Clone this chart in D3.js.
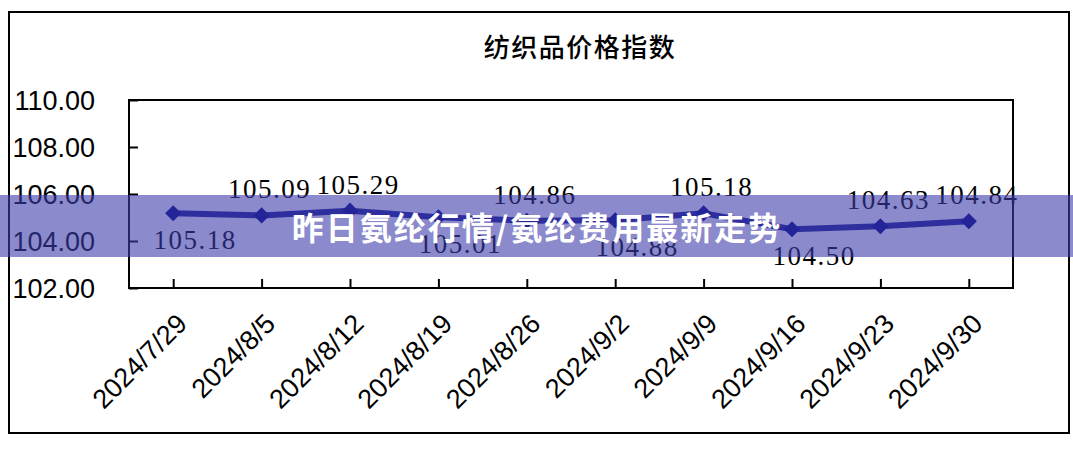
<!DOCTYPE html>
<html><head><meta charset="utf-8">
<script src="https://cdn.jsdelivr.net/npm/d3@7"></script>
<style>html,body{margin:0;padding:0;background:#fff;}svg{display:block;}</style>
</head><body>
<svg id="c" width="1073" height="452"></svg>
<script>
const categories = ["2024/7/29","2024/8/5","2024/8/12","2024/8/19","2024/8/26","2024/9/2","2024/9/9","2024/9/16","2024/9/23","2024/9/30"];
const values = [105.18,105.09,105.29,105.01,104.86,104.88,105.18,104.50,104.63,104.84];
const labelSide = ["below","above","above","below","above","below","above","below","above","above"];
const yTicks = [102,104,106,108,110];
const title = "纺织品价格指数";
const bannerText = "昨日氨纶行情/氨纶费用最新走势";

const svg = d3.select("#c");
const W = 1073, H = 452;
svg.append("rect").attr("width",W).attr("height",H).attr("fill","#fff");
// outer frame
svg.append("rect").attr("x",9).attr("y",12).attr("width",1060).attr("height",421)
  .attr("fill","none").attr("stroke","#000").attr("stroke-width",2);

const pl = 129, pr = 1013, pt = 100, pb = 288;
const x = d3.scalePoint().domain(categories).range([pl,pr]).padding(0.5);
const y = d3.scaleLinear().domain([102,110]).range([pb,pt]);

svg.append("text").attr("x",580).attr("y",57).attr("text-anchor","middle")
  .attr("font-family","'Noto Sans CJK SC',sans-serif").attr("font-size",26).attr("font-weight",500)
  .attr("letter-spacing",1.5).attr("fill","#000").text(title);

// plot box
svg.append("rect").attr("x",pl).attr("y",pt).attr("width",pr-pl).attr("height",pb-pt)
  .attr("fill","#fff").attr("stroke","#000").attr("stroke-width",2);

// y axis: inward ticks, labels at left
const yAxis = d3.axisRight(y).tickValues(yTicks).tickSize(9).tickFormat("");
const yg = svg.append("g").attr("transform",`translate(${pl},0)`).call(yAxis);
yg.select(".domain").remove();
yg.selectAll("line").attr("stroke","#000").attr("stroke-width",2);
svg.append("g").selectAll("text").data(yTicks).join("text")
  .attr("x",95).attr("y",d=>y(d)).attr("dy","0.36em").attr("text-anchor","end")
  .attr("font-family","'Liberation Sans',Arial,sans-serif").attr("font-size",27).attr("fill","#000")
  .text(d=>d.toFixed(2));

// x axis: inward ticks
const xAxis = d3.axisTop(x).tickSize(9).tickFormat("");
const xg = svg.append("g").attr("transform",`translate(0,${pb})`).call(xAxis);
xg.select(".domain").remove();
xg.selectAll("line").attr("stroke","#000").attr("stroke-width",2);
svg.append("g").selectAll("text").data(categories).join("text")
  .attr("transform",d=>`translate(${x(d)+2},${pb+24}) rotate(-45)`)
  .attr("text-anchor","end").attr("dy","0.7em")
  .attr("font-family","'Liberation Sans',Arial,sans-serif").attr("font-size",27).attr("fill","#000")
  .text(d=>d);

// line
const line = d3.line().x((d,i)=>x(categories[i])).y(d=>y(d));
svg.append("path").datum(values).attr("d",line).attr("fill","none")
  .attr("stroke","#1a1a8c").attr("stroke-width",6);
svg.append("g").selectAll("path").data(values).join("path")
  .attr("d",d3.symbol().type(d3.symbolSquare).size(130))
  .attr("transform",(d,i)=>`translate(${x(categories[i])},${y(d)}) rotate(45)`)
  .attr("fill","#000080");

// data labels
svg.append("g").selectAll("text").data(values).join("text")
  .attr("x",(d,i)=>x(categories[i]) + (labelSide[i]==="above"?8:22))
  .attr("y",(d,i)=>y(d) + (labelSide[i]==="above"?-17:36))
  .attr("text-anchor","middle")
  .attr("font-family","'Liberation Serif','Times New Roman',serif").attr("font-size",27)
  .attr("letter-spacing",1.5).attr("fill","#000")
  .text(d=>d.toFixed(2));

// banner overlay
svg.append("rect").attr("x",0).attr("y",195).attr("width",W).attr("height",62)
  .attr("fill","rgb(60,60,170)").attr("fill-opacity",0.6);
svg.append("text").attr("x",537).attr("y",240).attr("text-anchor","middle")
  .attr("font-family","'Noto Sans CJK SC',sans-serif").attr("font-size",32).attr("font-weight",700)
  .attr("letter-spacing",2).attr("fill","#fff").text(bannerText);
</script>
</body></html>
